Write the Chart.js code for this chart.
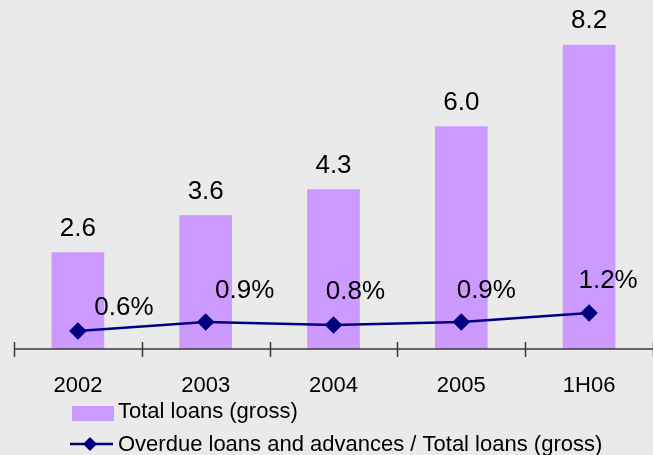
<!DOCTYPE html>
<html>
<head>
<meta charset="utf-8">
<script src="https://cdn.jsdelivr.net/npm/chart.js@4"></script>
<style>
  html, body { margin: 0; padding: 0; background: #eaeaea; }
  #wrap { width: 653px; height: 455px; }
</style>
</head>
<body>
<div id="wrap"><canvas id="loans-chart" width="653" height="455"></canvas></div>
<script>
const periods = ['2002', '2003', '2004', '2005', '1H06'];
const totalLoans = [2.6, 3.6, 4.3, 6.0, 8.2];
const overdueRatio = [0.6, 0.9, 0.8, 0.9, 1.2];
const barLabel = 'Total loans (gross)';
const lineLabel = 'Overdue loans and advances / Total loans (gross)';

const FONT = 'Liberation Sans, Arial, sans-serif';
const BAR_COLOR = '#cc99ff';
const LINE_COLOR = '#000080';
// where each percentage label sits relative to its point
const pctLabelShift = [[46, -23], [39, -31], [22, -33], [25, -31], [19, -32]];

// value labels above bars and line points
const valueLabels = {
  id: 'valueLabels',
  afterDatasetsDraw(chart) {
    const ctx = chart.ctx;
    ctx.save();
    ctx.fillStyle = '#000';
    ctx.textAlign = 'center';
    ctx.textBaseline = 'middle';
    ctx.font = '26px ' + FONT;
    chart.getDatasetMeta(0).data.forEach((bar, i) => {
      ctx.fillText(totalLoans[i].toFixed(1), bar.x, bar.y - 24);
    });
    chart.getDatasetMeta(1).data.forEach((pt, i) => {
      const [dx, dy] = pctLabelShift[i];
      ctx.fillText(overdueRatio[i].toFixed(1) + '%', pt.x + dx, pt.y + dy);
    });
    ctx.restore();
  }
};

// axis line with tick marks crossing it, plus the legend underneath
const axisAndLegend = {
  id: 'axisAndLegend',
  afterDraw(chart) {
    const ctx = chart.ctx;
    const x = chart.scales.x;
    const y0 = chart.chartArea.bottom;
    ctx.save();
    ctx.strokeStyle = '#3a3a3a';
    ctx.lineWidth = 1.5;
    ctx.beginPath();
    ctx.moveTo(x.left, y0);
    ctx.lineTo(x.right, y0);
    const step = (x.right - x.left) / periods.length;
    for (let i = 0; i <= periods.length; i++) {
      const tx = Math.round(x.left + i * step) + 0.5;
      ctx.moveTo(tx, y0 - 7);
      ctx.lineTo(tx, y0 + 8);
    }
    ctx.stroke();

    // legend
    ctx.font = '22px ' + FONT;
    ctx.textBaseline = 'middle';
    ctx.textAlign = 'left';
    ctx.fillStyle = BAR_COLOR;
    ctx.fillRect(72, 406, 42, 15);
    ctx.fillStyle = '#000';
    ctx.fillText(barLabel, 118, 412);

    ctx.strokeStyle = LINE_COLOR;
    ctx.lineWidth = 2.5;
    ctx.beginPath();
    ctx.moveTo(70, 444);
    ctx.lineTo(113, 444);
    ctx.stroke();
    ctx.fillStyle = LINE_COLOR;
    ctx.beginPath();
    ctx.moveTo(90, 437);
    ctx.lineTo(97, 444);
    ctx.lineTo(90, 451);
    ctx.lineTo(83, 444);
    ctx.closePath();
    ctx.fill();
    ctx.fillStyle = '#000';
    ctx.fillText(lineLabel, 118, 445);
    ctx.restore();
  }
};

new Chart(document.getElementById('loans-chart'), {
  data: {
    labels: periods,
    datasets: [
      {
        type: 'bar',
        label: barLabel,
        data: totalLoans,
        yAxisID: 'y',
        backgroundColor: BAR_COLOR,
        barThickness: 52,
        order: 1
      },
      {
        type: 'line',
        label: lineLabel,
        data: overdueRatio,
        yAxisID: 'y2',
        borderColor: LINE_COLOR,
        backgroundColor: LINE_COLOR,
        borderWidth: 2.5,
        pointStyle: 'rectRot',
        pointRadius: 7,
        pointHoverRadius: 7,
        tension: 0,
        order: 0
      }
    ]
  },
  options: {
    responsive: false,
    animation: false,
    layout: { autoPadding: false, padding: { left: 14, right: 0, top: 0, bottom: 0 } },
    plugins: {
      legend: { display: false },
      tooltip: { enabled: false }
    },
    scales: {
      x: {
        grid: { display: false },
        border: { display: false },
        ticks: {
          color: '#000',
          font: { family: FONT, size: 22 },
          padding: 16,
          maxRotation: 0
        },
        afterFit(scale) {
          scale.height = 106;
          scale.paddingLeft = 0;
          scale.paddingRight = 0;
        }
      },
      y: {
        display: false,
        min: 0,
        max: 9.415
      },
      y2: {
        display: false,
        position: 'right',
        min: 0,
        max: 11.63
      }
    }
  },
  plugins: [valueLabels, axisAndLegend]
});
</script>
</body>
</html>
